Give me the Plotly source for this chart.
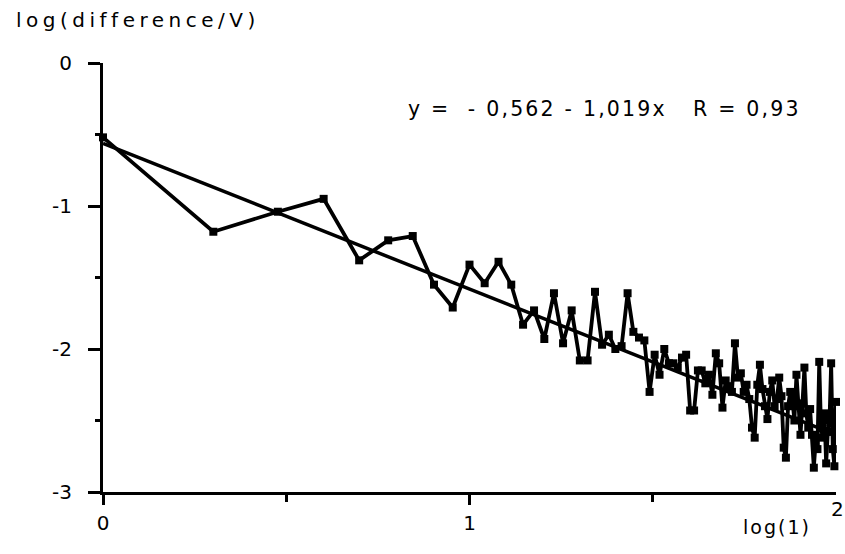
import numpy as np
import plotly.graph_objects as go

# Data: index i = 1..100, x = log10(i)
idx = list(range(1, 101))
log_diff = [
    -0.52, -1.18, -1.04, -0.95, -1.38, -1.24, -1.21, -1.55, -1.71, -1.41,
    -1.54, -1.39, -1.55, -1.83, -1.73, -1.93, -1.61, -1.96, -1.73, -2.08,
    -2.08, -1.60, -1.97, -1.90, -2.00, -1.98, -1.61, -1.88, -1.92, -1.94,
    -2.30, -2.04, -2.18, -2.00, -2.10, -2.10, -2.13, -2.06, -2.04, -2.43,
    -2.43, -2.15, -2.15, -2.24, -2.18, -2.32, -2.03, -2.10, -2.41, -2.22,
    -2.26, -2.30, -1.96, -2.20, -2.17, -2.30, -2.25, -2.35, -2.55, -2.62,
    -2.25, -2.11, -2.28, -2.40, -2.49, -2.30, -2.22, -2.40, -2.35, -2.20,
    -2.33, -2.69, -2.76, -2.40, -2.30, -2.35, -2.50, -2.18, -2.40, -2.60,
    -2.38, -2.13, -2.45, -2.55, -2.42, -2.60, -2.83, -2.65, -2.70, -2.09,
    -2.55, -2.62, -2.45, -2.80, -2.58, -2.50, -2.10, -2.70, -2.82, -2.37,
]
fit_intercept = -0.562
fit_slope = -1.019
fit_x = [0.0, 2.0]

x_vals = np.log10(np.array(idx, dtype=float))
fit_y = [fit_intercept + fit_slope * v for v in fit_x]

x_tickvals = [0, 1]
x_ticktext = ["0", "1"]
x_minor = [0.5, 1.5]
y_tickvals = [0, -1, -2, -3]
y_ticktext = ["0", "-1", "-2", "-3"]
y_minor = [-0.5, -1.5, -2.5]

font_family = "DejaVu Sans"


def spaced(txt, px):
    return '<span style="letter-spacing:%spx">%s</span>' % (px, txt)


fig = go.Figure()
fig.add_trace(go.Scatter(
    x=fit_x, y=fit_y, mode="lines",
    line=dict(color="black", width=3.5),
    cliponaxis=False, showlegend=False, hoverinfo="skip",
))
fig.add_trace(go.Scatter(
    x=x_vals, y=log_diff, mode="lines+markers",
    line=dict(color="black", width=3.8),
    marker=dict(symbol="square", size=8, color="black"),
    cliponaxis=False, showlegend=False,
))

fig.update_layout(
    width=845, height=554,
    margin=dict(l=103, r=9, t=63, b=62),
    paper_bgcolor="white", plot_bgcolor="white",
    font=dict(family=font_family, color="black", size=17),
    xaxis=dict(
        range=[0, 2], showgrid=False, zeroline=False,
        showline=True, linecolor="black", linewidth=3,
        ticks="outside", ticklen=10, tickwidth=3, tickcolor="black",
        tickvals=x_tickvals, ticktext=x_ticktext,
        ticklabelstandoff=1,
        tickfont=dict(size=20, family=font_family),
        minor=dict(tickvals=x_minor, ticks="outside", ticklen=7,
                   tickwidth=3, tickcolor="black", showgrid=False),
    ),
    yaxis=dict(
        range=[-3, 0], showgrid=False, zeroline=False,
        showline=True, linecolor="black", linewidth=3,
        ticks="outside", ticklen=12, tickwidth=3, tickcolor="black",
        tickvals=y_tickvals, ticktext=y_ticktext,
        ticklabelstandoff=12,
        tickfont=dict(size=20, family=font_family),
        minor=dict(tickvals=y_minor, ticks="outside", ticklen=5,
                   tickwidth=3, tickcolor="black", showgrid=False),
    ),
    annotations=[
        dict(text=spaced("log(difference/V)", 4.5), xref="paper", yref="paper",
             x=-89/733, y=1 + 43/429, xanchor="left", yanchor="middle",
             showarrow=False, font=dict(size=20, family=font_family)),
        dict(text=spaced("log(1)", 2), xref="paper", yref="paper",
             x=(741-103)/733, y=-35/429, xanchor="left", yanchor="middle",
             showarrow=False, font=dict(size=19, family=font_family)),
        dict(text="2", xref="paper", yref="paper",
             x=(846-103)/733, y=-17/429, xanchor="right", yanchor="middle",
             showarrow=False, font=dict(size=20, family=font_family)),
        dict(text=spaced("y =  - 0,562 - 1,019x   R = 0,93", 2.2),
             xref="paper", yref="paper",
             x=(406-103)/733, y=1 - (109-63)/429, xanchor="left", yanchor="middle",
             showarrow=False, font=dict(size=20.5, family=font_family)),
    ],
)

fig.write_html("out.html")
